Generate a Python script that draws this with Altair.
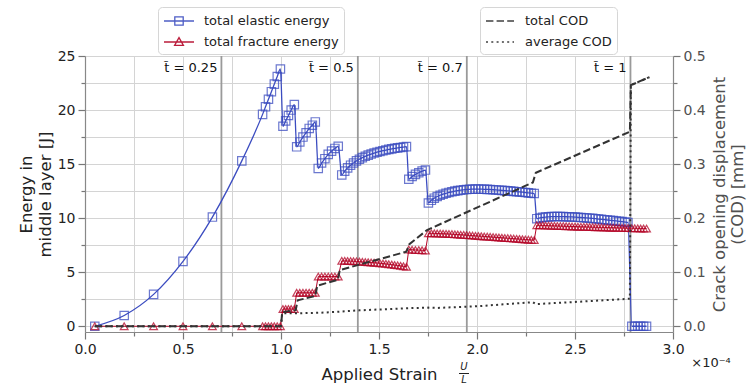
import altair as alt
import pandas as pd

BLUE = "#3b4cc0"
RED = "#b40426"
DARK = "#333333"
FONT = "DejaVu Sans"

# ---------------- data (strain in units of 1e-4) ----------------
strain = [
    0.05, 0.2, 0.35, 0.5, 0.65, 0.8,
    0.906, 0.921, 0.936, 0.951, 0.966, 0.981, 0.997,
    1.010, 1.024, 1.038, 1.052, 1.068,
    1.080, 1.096, 1.112, 1.128, 1.144, 1.160, 1.175,
    1.190, 1.207, 1.224, 1.241, 1.258, 1.275, 1.292,
    1.310, 1.325, 1.340, 1.355, 1.370, 1.385, 1.400, 1.415, 1.430, 1.445,
    1.460, 1.475, 1.490, 1.505, 1.520, 1.535, 1.550, 1.565, 1.580, 1.595,
    1.610, 1.625, 1.640,
    1.652, 1.669, 1.686, 1.703, 1.720, 1.737,
    1.752, 1.767, 1.782, 1.797, 1.812, 1.827, 1.842, 1.857, 1.872, 1.887,
    1.902, 1.917, 1.932, 1.947, 1.962, 1.977, 1.992, 2.007, 2.022, 2.037,
    2.052, 2.067, 2.082, 2.097, 2.112, 2.127, 2.142, 2.157, 2.172, 2.187,
    2.202, 2.217, 2.232, 2.247, 2.262, 2.277, 2.292,
    2.305, 2.320, 2.335, 2.350, 2.365, 2.380, 2.395, 2.410, 2.425, 2.440,
    2.455, 2.470, 2.485, 2.500, 2.515, 2.530, 2.545, 2.560, 2.575, 2.590,
    2.605, 2.620, 2.635, 2.650, 2.665, 2.680, 2.695, 2.710, 2.725, 2.740,
    2.755, 2.770,
    2.790, 2.805, 2.820, 2.835, 2.850, 2.865,
]
elastic = [
    0.0, 1.0, 2.95, 6.0, 10.1, 15.3,
    19.6, 20.3, 21.0, 21.7, 22.4, 23.1, 23.8,
    18.5, 19.0, 19.5, 20.0, 20.5,
    16.6, 17.05, 17.5, 17.9, 18.3, 18.6, 18.9,
    14.6, 15.1, 15.5, 15.9, 16.2, 16.45, 16.65,
    14.0, 14.35, 14.65, 14.9, 15.1, 15.3, 15.45, 15.6, 15.72, 15.83,
    15.93, 16.02, 16.1, 16.17, 16.24, 16.3, 16.36, 16.41, 16.46, 16.5,
    16.54, 16.58, 16.62,
    13.6, 13.85, 14.05, 14.2, 14.35, 14.45,
    11.4, 11.65, 11.85, 12.0, 12.12, 12.22, 12.3, 12.38, 12.44, 12.5,
    12.55, 12.59, 12.62, 12.65, 12.67, 12.68, 12.69, 12.69, 12.68, 12.67,
    12.66, 12.65, 12.63, 12.61, 12.59, 12.57, 12.55, 12.53, 12.5, 12.48,
    12.45, 12.43, 12.4, 12.37, 12.34, 12.31, 12.28,
    9.95, 10.02, 10.07, 10.1, 10.12, 10.14, 10.15, 10.15, 10.15, 10.14,
    10.13, 10.12, 10.11, 10.1, 10.08, 10.06, 10.04, 10.02, 10.0, 9.98,
    9.95, 9.92, 9.89, 9.86, 9.83, 9.8, 9.77, 9.74, 9.71, 9.68,
    9.64, 9.6,
    0.0, 0.0, 0.0, 0.0, 0.0, 0.0,
]
fracture = [
    0.0, 0.0, 0.0, 0.0, 0.0, 0.0,
    0.0, 0.0, 0.0, 0.0, 0.0, 0.0, 0.0,
    1.6, 1.6, 1.6, 1.6, 1.6,
    3.1, 3.1, 3.1, 3.1, 3.1, 3.1, 3.1,
    4.6, 4.6, 4.6, 4.6, 4.6, 4.6, 4.6,
    6.05, 6.05, 6.04, 6.03, 6.02, 6.0, 5.98, 5.96, 5.94, 5.92,
    5.9, 5.88, 5.86, 5.83, 5.8, 5.77, 5.74, 5.7, 5.67, 5.63,
    5.59, 5.55, 5.5,
    7.1, 7.08, 7.06, 7.05, 7.03, 7.0,
    8.6, 8.6, 8.59, 8.58, 8.57, 8.56, 8.55, 8.54, 8.52, 8.5,
    8.49, 8.47, 8.45, 8.43, 8.41, 8.39, 8.37, 8.35, 8.33, 8.31,
    8.29, 8.27, 8.25, 8.23, 8.21, 8.19, 8.17, 8.15, 8.13, 8.11,
    8.09, 8.07, 8.05, 8.03, 8.01, 7.99, 7.97,
    9.35, 9.34, 9.33, 9.32, 9.31, 9.3, 9.29, 9.28, 9.27, 9.26,
    9.25, 9.24, 9.23, 9.22, 9.21, 9.2, 9.2, 9.19, 9.18, 9.17,
    9.16, 9.15, 9.15, 9.14, 9.13, 9.12, 9.12, 9.11, 9.1, 9.1,
    9.09, 9.08,
    9.07, 9.07, 9.06, 9.05, 9.05, 9.04,
]

cod_strain = [0.05, 1.0, 1.006, 1.075, 1.085, 1.175, 1.185, 1.29, 1.30,
              1.64, 1.655, 1.745, 2.285, 2.30, 2.78, 2.785, 2.88]
cod_total = [0.0, 0.0, 0.026, 0.030, 0.048, 0.056, 0.075, 0.086, 0.104,
             0.138, 0.152, 0.178, 0.266, 0.284, 0.36, 0.446, 0.461]
avg_strain = [0.05, 1.0, 1.006, 1.08, 1.2, 1.3, 1.4, 1.5, 1.65, 1.75,
              1.8, 2.0, 2.285, 2.30, 2.5, 2.78, 2.785, 2.88]
cod_avg = [0.0, 0.0, 0.024, 0.024, 0.025, 0.027, 0.0295, 0.031, 0.0335, 0.0345,
           0.034, 0.037, 0.0445, 0.041, 0.045, 0.051, 0.446, 0.461]

t_strain = [0.696, 1.392, 1.948, 2.783]
t_labels = ["t\u0303 = 0.25", "t\u0303 = 0.5", "t\u0303 = 0.7", "t\u0303 = 1"]

energy_labels = ["total elastic energy", "total fracture energy"]
cod_labels = ["total COD", "average COD"]

x_ticks = [0, 0.25, 0.5, 0.75, 1.0, 1.25, 1.5, 1.75, 2.0, 2.25, 2.5, 2.75, 3.0]
e_ticks = [0, 2.5, 5, 7.5, 10, 12.5, 15, 17.5, 20, 22.5, 25]
c_ticks = [0, 0.05, 0.1, 0.15, 0.2, 0.25, 0.3, 0.35, 0.4, 0.45, 0.5]
offset_text = ["\u00d710\u207b\u2074"]
x_title = "Applied Strain"
frac_parts = ["U", "L"]

# ---------------- frames ----------------
energy_df = pd.DataFrame({"strain": strain, "elastic": elastic, "fracture": fracture})
total_df = pd.DataFrame({"strain": cod_strain, "cod": cod_total})
avg_df = pd.DataFrame({"strain": avg_strain, "cod": cod_avg})
t_df = pd.DataFrame({"strain": t_strain, "label": t_labels})
leg_e_df = pd.DataFrame({"series": energy_labels})
leg_c_df = pd.DataFrame({"kind": cod_labels})

# ---------------- scales / axes ----------------
x_axis = alt.Axis(
    values=x_ticks,
    labelExpr="round(datum.value*4) % 2 === 0 ? format(datum.value, '.1f') : ''",
    labelOverlap=False, labelFlush=False,
    tickSize={"condition": {"test": "round(datum.value*4) % 2 !== 0", "value": 4}, "value": 7},
    tickColor="#777", tickWidth=1.2, domainColor="#888", domainWidth=1.2,
    grid=True, gridColor="#d4d4d4", gridWidth=1,
    labelFontSize=14, labelColor="#222", labelFont=FONT, labelPadding=3,
    titleFontSize=16.5, titleFont=FONT, titleFontWeight="normal", titleColor="#222",
    titlePadding=10,
)
X = alt.X("strain:Q", scale=alt.Scale(domain=[0, 3], nice=False, zero=False),
          axis=x_axis, title=x_title)

e_axis = alt.Axis(
    values=e_ticks, orient="left",
    labelExpr="round(datum.value*2) % 2 === 0 ? format(datum.value, 'd') : ''",
    labelOverlap=False, labelFlush=False,
    tickSize={"condition": {"test": "round(datum.value*2) % 2 !== 0", "value": 4}, "value": 7},
    tickColor="#777", tickWidth=1.2, domainColor="#888", domainWidth=1.2,
    grid=True, gridColor="#d4d4d4", gridWidth=1,
    labelFontSize=14, labelColor="#222", labelFont=FONT, labelPadding=3,
    titleFontSize=16.5, titleFont=FONT, titleFontWeight="normal", titleColor="#222",
    titlePadding=4,
)
e_scale = alt.Scale(domain=[-0.53, 25], nice=False, zero=False)
E_title = ["Energy in", "middle layer [J]"]

c_axis = alt.Axis(
    values=c_ticks, orient="right",
    labelExpr="round(datum.value*20) % 2 === 0 ? format(datum.value, '.1f') : ''",
    labelOverlap=False, labelFlush=False,
    tickSize={"condition": {"test": "round(datum.value*20) % 2 !== 0", "value": 4}, "value": 7},
    tickColor="#777", tickWidth=1.2, domainColor="#888", domainWidth=1.2,
    grid=False,
    labelFontSize=14, labelColor="#505050", labelFont=FONT, labelPadding=3,
    titleFontSize=16.5, titleFont=FONT, titleFontWeight="normal", titleColor="#505050",
    titleAngle=270, titleBaseline="top", titleX=38,
)
c_scale = alt.Scale(domain=[-0.0106, 0.5], nice=False, zero=False)
C_title = ["Crack opening displacement", "(COD) [mm]"]

# ---------------- energy layers ----------------
rules = alt.Chart(t_df).mark_rule(color="#9a9a9a", strokeWidth=1.8).encode(x=X)

blue_line = alt.Chart(energy_df).mark_line(
    color=BLUE, strokeWidth=1.3, interpolate="monotone"
).encode(x=X, y=alt.Y("elastic:Q", scale=e_scale, axis=e_axis, title=E_title))
blue_pts = alt.Chart(energy_df).mark_point(
    shape="square", filled=False, size=70, color=BLUE, strokeWidth=1.2, opacity=0.75
).encode(x=X, y=alt.Y("elastic:Q", scale=e_scale, axis=e_axis, title=E_title))
red_line = alt.Chart(energy_df).mark_line(
    color=RED, strokeWidth=1.0
).encode(x=X, y=alt.Y("fracture:Q", scale=e_scale, axis=e_axis, title=E_title))
red_pts = alt.Chart(energy_df).mark_point(
    shape="triangle-up", filled=False, size=60, color=RED, strokeWidth=1.2, opacity=0.75
).encode(x=X, y=alt.Y("fracture:Q", scale=e_scale, axis=e_axis, title=E_title))

t_text = alt.Chart(t_df).mark_text(
    align="right", baseline="middle", dx=-4, fontSize=13, font=FONT, color="#111"
).encode(x=X, y=alt.value(12), text="label:N")

# legend glyphs: line with marker (unit = 8 px)
sq_path = "M-1,0H2.75M0.35,-0.525H1.4V0.525H0.35Z"
tri_path = "M-1,0H2.75M0.875,-0.55L1.425,0.42L0.325,0.42Z"
leg_e = alt.Legend(
    title=None, orient="none", legendX=73, legendY=-49, padding=5,
    fillColor="rgba(255,255,255,0.85)", strokeColor="#d6d6d6", cornerRadius=4,
    labelFontSize=13, labelFont=FONT, labelColor="#222", labelOffset=23,
    symbolSize=256, symbolStrokeWidth=1.3, rowPadding=5,
)
legend_energy = alt.Chart(leg_e_df).mark_point(size=0, filled=False, strokeWidth=1.3, opacity=0.9).encode(
    color=alt.Color("series:N", scale=alt.Scale(domain=energy_labels, range=[BLUE, RED]), legend=leg_e),
    shape=alt.Shape("series:N", scale=alt.Scale(domain=energy_labels, range=[sq_path, tri_path]), legend=leg_e),
)

energy = alt.layer(rules, blue_line, blue_pts, red_line, red_pts, t_text, legend_energy)

# ---------------- COD layers ----------------
Yc = alt.Y("cod:Q", scale=c_scale, axis=c_axis, title=C_title)
total_line = alt.Chart(total_df).mark_line(color=DARK, strokeWidth=2, strokeDash=[7.4, 3.2]).encode(x=X, y=Yc)
avg_line = alt.Chart(avg_df).mark_line(color=DARK, strokeWidth=2, strokeDash=[2, 3.3]).encode(x=X, y=Yc)
leg_c = alt.Legend(
    title=None, orient="none", legendX=395, legendY=-49, padding=5,
    fillColor="rgba(255,255,255,0.85)", strokeColor="#d6d6d6", cornerRadius=4,
    labelFontSize=13, labelFont=FONT, labelColor="#222", labelOffset=22,
    symbolType="M-1,0H2.5", symbolSize=256, symbolStrokeWidth=2, symbolStrokeColor=DARK,
    rowPadding=5,
)
legend_cod = alt.Chart(leg_c_df).mark_point(size=0, filled=False, color=DARK, strokeWidth=2).encode(
    strokeDash=alt.StrokeDash("kind:N", scale=alt.Scale(domain=cod_labels, range=[[7.4, 3.2], [2, 3.3]]), legend=leg_c),
)
cod = alt.layer(total_line, avg_line, legend_cod)

# ---------------- annotations ----------------
off_df = pd.DataFrame({"t": offset_text})
off_text = alt.Chart(off_df).mark_text(fontSize=13, font=FONT, color="#222", align="center", baseline="middle").encode(
    x=alt.value(626), y=alt.value(307), text="t:N")
frac_df = pd.DataFrame({"t": [frac_parts[0]]})
frac_df2 = pd.DataFrame({"t": [frac_parts[1]]})
u_text = alt.Chart(frac_df).mark_text(fontSize=10, font=FONT, fontStyle="italic", color="#222",
                                      baseline="middle").encode(
    x=alt.value(379), y=alt.value(311), text="t:N")
l_text = alt.Chart(frac_df2).mark_text(fontSize=10, font=FONT, fontStyle="italic", color="#222",
                                       baseline="middle").encode(
    x=alt.value(379), y=alt.value(324), text="t:N")
frac_bar = alt.Chart(frac_df).mark_rule(color="#222", strokeWidth=1).encode(
    x=alt.value(374), x2=alt.value(384), y=alt.value(317.5))

chart = alt.layer(energy, cod, off_text, u_text, l_text, frac_bar).resolve_scale(y="independent").properties(
    width=588, height=276,
    padding={"left": 85, "top": 56, "right": 78, "bottom": 55},
    autosize=alt.AutoSizeParams(type="none"),
).configure_view(stroke=None).configure(font=FONT, background="white")

chart.save("out.html", embed_options={"renderer": "svg", "actions": False})
